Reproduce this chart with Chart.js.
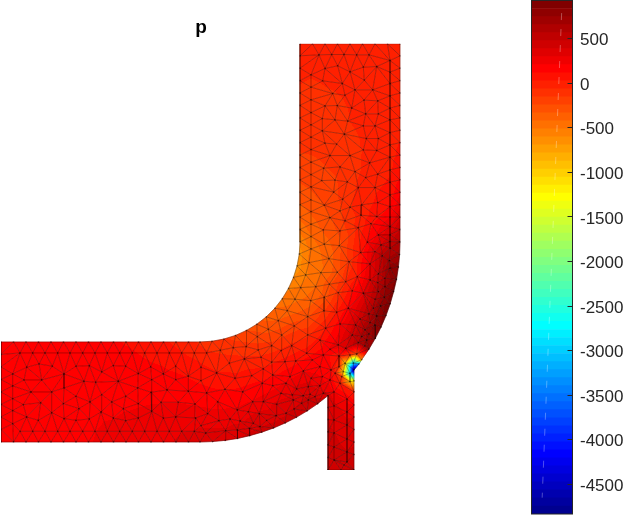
<!DOCTYPE html>
<html>
<head>
<meta charset="utf-8">
<script src="https://cdn.jsdelivr.net/npm/chart.js@4"></script>
<style>
html, body { margin: 0; padding: 0; background: #fff; overflow: hidden; }
canvas { position: absolute; top: 0; }
#meshChart { left: 0; }
#barChart { left: 520px; }
</style>
</head>
<body>
<canvas id="meshChart" width="520" height="515"></canvas>
<canvas id="barChart" width="105" height="515"></canvas>
<script>
// colorbar
var tickValues = [500, 0, -500, -1000, -1500, -2000, -2500, -3000, -3500, -4000, -4500];
var bandEdges = [-4833,-4743,-4653,-4563,-4473,-4383,-4293,-4203,-4113,-4023,-3933,-3843,-3753,-3663,-3573,-3483,
  -3393,-3303,-3213,-3123,-3033,-2943,-2853,-2763,-2673,-2583,-2493,-2403,-2313,-2223,-2133,-2043,
  -1953,-1863,-1773,-1683,-1593,-1503,-1413,-1323,-1233,-1143,-1053,-963,-873,-783,-693,-603,
  -513,-423,-333,-243,-153,-63,27,117,207,297,387,477,567,657,747,837,927];
var streakX = [0.97, 0.02];
var streakY = [786, -4650];

// mesh nodes [x, y, p], pipe width is 100. this list walks round the outline in order
var outlineNodes = [
  [0,100,150],[12.5,100,150],[25,100,150],[37.5,100,150],[50,100,150],[62.5,100,150],[75,100,150],[87.5,100,150],[100,100,150],
  [112.5,100,130],[125,100,110],[137.5,100,90],[150,100,70],[162.5,100,40],[175,100,10],[187.5,100,-30],[199,100,-80],
  [211,100.7,-110],[222.9,102.9,-140],[234.5,106.5,-190],[245.5,111.5,-240],[255.8,117.7,-300],[265.3,125.1,-360],[273.9,133.7,-420],
  [281.3,143.2,-480],[287.5,153.5,-530],[292.5,164.5,-600],[296.1,176.1,-650],[298.3,187.9,-650],[299,200,-580],
  [299,212.4,-480],[299,224.8,-400],[299,237.2,-340],[299,249.6,-280],[299,262,-230],[299,274.4,-190],[299,286.8,-160],[299,299.2,-130],
  [299,311.6,-110],[299,324,-95],[299,336.4,-80],[299,348.8,-70],[299,361.2,-60],[299,373.6,-55],[299,386,-50],[299,398,-50],
  [311.5,398,-50],[324,398,-50],[336.5,398,-50],[349,398,-45],[361.5,398,-40],[374,398,-40],[386.5,398,-35],[399,398,-30],
  [399,386,-30],[399,373.6,-30],[399,361.2,-25],[399,348.8,-20],[399,336.4,-10],[399,324,0],[399,311.6,10],[399,299.2,30],
  [399,286.8,50],[399,274.4,90],[399,262,130],[399,249.6,190],[399,237.2,270],[399,224.8,370],[399,212.4,480],[399,200,600],
  [398.6,187.4,700],[397.4,174.9,790],[395.5,162.5,850],[392.7,150.5,890],[389.2,138.2,900],[385,126.4,880],[380,114.8,840],
  [374.3,103.6,780],[367.9,92.8,700],[360.8,82.4,-600],[358,78,-3400],[353,72,-4800],
  [353,61,-1200],[353,50,0],[353,37,200],[353,25,300],[353,12.5,350],[353,0,380],[353,-12.5,400],[353,-28,420],
  [340,-28,420],[327,-28,420],[327,-15.5,420],[327,-3,410],[327,10,400],[327,22.5,390],[327,34.5,380],[327,46.4,380],
  [316.6,38.2,450],[306.2,31.1,470],[295.4,24.7,460],[284.2,19,450],[272.6,14,430],[260.8,9.8,410],[248.7,6.3,400],[236.5,3.5,380],
  [224.1,1.6,360],[211.6,0.4,340],[199,0,320],
  [187.5,0,310],[175,0,300],[162.5,0,290],[150,0,280],[137.5,0,270],[125,0,260],[112.5,0,240],[100,0,220],
  [87.5,0,200],[75,0,180],[62.5,0,170],[50,0,160],[37.5,0,150],[25,0,150],[12.5,0,150],[0,0,150],
  [0,12.5,150],[0,25,150],[0,37.5,150],[0,50,150],[0,62.5,150],[0,75,150],[0,87.5,150]
];
var inletNodes = [
  [19,89,150],[31.7,89,150],[44,89,150],[56.7,89,150],[69,89,150],[81.7,89,150],[94,89,150],[106.3,89,155],
  [25.7,74.7,150],[38,78,150],[51.3,75.7,150],[63,68,150],[75,75.7,150],[88.3,76.3,150],[100.7,70,155],
  [11.7,68,150],[23,62,150],[40.7,62,150],[83,60.7,155],[94.7,59.7,155],
  [11.7,56,150],[30,50,150],[50.7,50,155],[63,54,155],
  [11.7,43.3,150],[22.3,37.3,155],[39.7,39.3,155],[75,45.7,160],[89,40,165],[100.7,47.3,170],
  [11.7,31.3,155],[62.3,38.3,160],[78,33.3,170],[50.7,29.3,165],[25.7,25,160],[11.7,18.3,160],[37.3,21.7,165],[63,23.3,175],
  [75,21.7,180],[88.3,23,190],[100,30,190],
  [19,10.7,160],[31.7,10.7,165],[44,10.7,170],[56.7,10.7,175],[69,10.7,180],[81.7,10.7,195],[94,10.7,205],[106.3,10.7,225],
  [118.7,89,135],[131.3,89,125],[143.7,89,105],[156,89,85],[168.3,89,60],[180.7,89,30],[193.3,89,0],[205.7,89,-50],
  [112.3,76.3,160],[124.7,75.7,150],[137.3,68.3,160],[149.7,75,130],[162.3,68,140],[174.7,75.7,90],[187.3,65.7,110],[200,74.7,50],
  [117.3,60.7,170],[150.7,62.3,165],[174.7,62.3,150],[200,61.3,100],
  [136.7,54,180],[166,52,180],[150,49.7,185],[124.7,45.7,185],[187.3,50.7,170],[205.7,49,150],
  [110.7,40,190],[160,39.7,205],[177.3,39.7,205],[137.3,38.3,200],[194,38,200],
  [122.3,33.3,200],[150.7,30.7,220],[112.3,24,205],[162.3,24,240],[137.3,24,225],[124.7,21.3,225],[174.7,25,250],[194.7,24,260],
  [206.7,28.3,230],[200,16.3,290],
  [118.7,10.7,240],[131.3,10.7,250],[143.7,10.7,260],[156,10.7,275],[168.3,10.7,285],[180.7,10.7,295],[193.3,10.7,300],[204.7,9,320]
];
var bendNodes = [
  [219.3,91.7,-80],[232.3,94.3,-105],[245,95.3,-120],[257.3,92,-105],[270.7,96.3,-120],[290.7,96.3,-45],[305.7,88.7,75],
  [243.3,83,-45],[228.3,78.7,-20],[270.7,79.7,15],[284,80.3,60],[294.7,81,90],[311.3,82,165],[322.3,87,170],
  [262.3,73,35],[302.3,71,200],[319,75.3,120],[215.7,69,35],
  [234,63.7,55],[250.7,66.3,75],[271.7,67,105],[289,65.3,180],[310,63.7,280],[321.3,65.3,200],
  [224,52.7,110],[261.3,58.7,135],[271.7,56.3,180],[285,58.7,220],[295.7,53,330],[307.3,55.3,330],[319,56.3,250],
  [241.7,50,145],[280,48.7,250],[291.3,47,310],[302.3,46.3,370],[309,47.7,380],[314,45.3,380],[322.3,48.7,330],
  [216.7,40.3,170],[251.7,40.3,215],[262.3,40.3,250],[275.7,37.7,320],[292.3,42,330],[307.3,42,410],[300.7,38.7,400],
  [236.3,32,220],[293,33,390],[247.3,30.3,270],[258.3,28.3,310],[275,26.3,340],[285,28.7,370],
  [218,21.3,260],[229,23,260],[239,21,280],[265.7,21.7,360],[252.3,18.7,340],
  [224.7,11.3,310],[236.3,12,340],[248.3,13.7,370],[259,15.3,380],
  [260,84.7,-50],[280,91.3,-50],[256.3,105.3,-205],[280.7,107,-175],[267.3,112.7,-280],[293.3,116,-200],[277.3,121.3,-330],
  [286.3,131.3,-390],[294,142.7,-450],[306.7,107,-80],[306.7,125.3,-260],[319,102,60],[324.7,113.7,25],[323,131,-150],[335.7,129.7,30],
  [339,118,165],[351.3,107,450],[344.7,93.7,350],[337.3,97,280],[329,92.7,220],[357.3,99.3,560],[360.7,105.3,580],[364,96,690],[365.7,102,680],
  [354.7,117,430],[359,123,440],[364,112,640],[368,108,720],[369,119.3,660],[374,117,780],[368,128,580],[375.7,126,780],
  [347.3,133.7,155],[372.3,133.7,610],[379.7,136,790],[337.3,149.3,-110],[351.3,151,100],[362.3,148.7,300],[377.3,150.3,620],[383.3,144.7,760],
  [374,142.7,560],[328.3,157.7,-270],[314.7,155.3,-420],[344.7,160.3,-60],[369,162,350],[376.7,159.3,510],[384,155.3,720],
  [320,169.3,-440],[336.3,169.7,-280],[356.3,165.3,40],[377.3,168,470],[384,163.7,640],[304.7,167,-530],
  [299.7,154.3,-500],[309.7,141.3,-380],[323.3,144.7,-290],
  [308,179.3,-500],[328,183.3,-380],[348,180.3,-120],[369,178,280],[381.3,186,560],[389,173.7,800],[388.3,181.3,700],
  // round the sharp corner
  [349,87,-100],[338,86,40],[355.7,88,-250],[344,78.7,-900],[352.3,78.7,-3000],[338,75.3,-100],[342.3,70.3,-1000],[334,68.7,60],
  [349,68.7,-3000],[340.7,65.3,-150],[349,60.3,-900],[339,58.7,30],[330,72,120],[329,62,170]
];
var outletNodes = [
  [310,193,-480],[310,205.3,-430],[310,217.7,-370],[310,230.3,-320],[310,242,-280],[310,255,-230],[310,267.3,-200],[310,279.7,-170],
  [310,292.3,-140],[310,304.7,-120],[310,317,-105],[310,329.3,-90],[310,342,-80],[310,354.7,-70],[310,367,-60],
  [323.3,197.7,-380],[338.3,196.3,-270],[322.3,212,-320],[339,211,-220],[323.3,236.7,-240],[329,224.3,-250],[344,221,-130],[339,231,-170],
  [332.7,249.7,-170],[341.7,242.7,-130],[320.7,261.3,-190],[334,261.7,-160],[346.3,260,-120],[322.7,273.7,-160],[339,275,-130],[354,270.3,-80],
  [329,286.3,-130],[349,286.3,-90],
  [359.7,189.3,60],[374,190.3,370],[389,193.7,560],[366.3,199.7,130],[380,197,390],[389,200.3,490],[377.3,207,240],[389,207,400],
  [357.3,214.3,-30],[370,218.3,90],[389,215.3,300],[360,226.7,-30],[375.7,225.3,90],[389,224.7,210],[349,234.7,-70],[360.7,237,-30],
  [376.7,239.3,50],[389,235.3,120],[357.3,254.3,-50],[374,254.3,10],[389,247,70],[389,259.7,40],[364.7,264.3,-40],[376.7,267.7,-10],
  [389,272,10],[368.7,279,-40],[362.3,292,-60],[375.7,291.3,-30],[389,284.7,-5],
  [318,387,-55],[330.7,387.3,-55],[343,387.3,-50],[355.7,387,-45],[368,387,-40],[389,381.3,-35],
  [324,373.3,-55],[336.7,376,-55],[349,370,-50],[362.3,374.7,-45],[375.7,375.3,-40],[389,369.7,-35],
  [321.7,361,-60],[341.3,358.3,-55],[363.3,361.7,-45],[389,358.3,-30],[331.7,348.3,-65],[354,352,-50],[371.7,352,-40],[389,346,-25],
  [344,346.7,-60],[363,341.7,-50],[376.7,341,-35],[389,333.7,-20],
  [324,336,-75],[336.3,336.3,-70],[350.7,333.7,-60],[364.7,328,-45],[377.3,328,-30],[389,322,-15],
  [321.3,323.3,-85],[334,322,-75],[346.7,320.7,-65],[362.3,316,-50],[374,316,-35],[389,309.3,-10],
  [321.3,311,-95],[343.3,307.7,-80],[365.3,303.3,-55],[377.3,303.3,-35],
  [324,298.7,-110],[335.7,297.7,-95],[389,297,-5]
];
var branchNodes = [
  [333,50,200],[333,36,330],[333,22,370],[333,9,390],[333,-5,410],[333,-18,420],
  [346,43,180],[346,30,270],[346,17,320],[346,3,360],[346,-10,390],[346,-20,410],[343,-23,415]
];

var nodes = outlineNodes.concat(inletNodes, bendNodes, outletNodes, branchNodes);

function insideOutline(x, y) {
  var hit = false;
  for (var i = 0, j = outlineNodes.length - 1; i < outlineNodes.length; j = i++) {
    var a = outlineNodes[i], b = outlineNodes[j];
    if ((a[1] > y) != (b[1] > y) && x < (b[0] - a[0]) * (y - a[1]) / (b[1] - a[1]) + a[0]) hit = !hit;
  }
  return hit;
}

// connect the nodes (bowyer watson), then keep what lies in the pipe
function triangulate(pts) {
  var all = pts.concat([[-5000, -5000], [6000, -5000], [500, 6000]]);
  var n = pts.length;
  function circle(t) {
    var a = all[t[0]], b = all[t[1]], c = all[t[2]];
    var d = 2 * (a[0] * (b[1] - c[1]) + b[0] * (c[1] - a[1]) + c[0] * (a[1] - b[1]));
    if (Math.abs(d) < 1e-9) return { x: 0, y: 0, r: 1e18 };
    var aa = a[0] * a[0] + a[1] * a[1], bb = b[0] * b[0] + b[1] * b[1], cc = c[0] * c[0] + c[1] * c[1];
    var x = (aa * (b[1] - c[1]) + bb * (c[1] - a[1]) + cc * (a[1] - b[1])) / d;
    var y = (aa * (c[0] - b[0]) + bb * (a[0] - c[0]) + cc * (b[0] - a[0])) / d;
    return { x: x, y: y, r: (a[0] - x) * (a[0] - x) + (a[1] - y) * (a[1] - y) };
  }
  var tris = [{ v: [n, n + 1, n + 2] }];
  tris[0].c = circle(tris[0].v);
  for (var i = 0; i < n; i++) {
    var p = all[i], edges = {}, keep = [];
    tris.forEach(function (t) {
      var dx = p[0] - t.c.x, dy = p[1] - t.c.y;
      if (dx * dx + dy * dy < t.c.r) {
        [[0, 1], [1, 2], [2, 0]].forEach(function (e) {
          var a = t.v[e[0]], b = t.v[e[1]], k = Math.min(a, b) + '_' + Math.max(a, b);
          if (edges[k]) edges[k].count++; else edges[k] = { a: a, b: b, count: 1 };
        });
      } else keep.push(t);
    });
    Object.keys(edges).forEach(function (k) {
      if (edges[k].count == 1) {
        var t = { v: [edges[k].a, edges[k].b, i] };
        t.c = circle(t.v);
        keep.push(t);
      }
    });
    tris = keep;
  }
  return tris.map(function (t) { return t.v; }).filter(function (v) {
    if (v[0] >= n || v[1] >= n || v[2] >= n) return false;
    var a = pts[v[0]], b = pts[v[1]], c = pts[v[2]];
    var area = Math.abs((b[0] - a[0]) * (c[1] - a[1]) - (c[0] - a[0]) * (b[1] - a[1]));
    return area > 0.01 && insideOutline((a[0] + b[0] + c[0]) / 3, (a[1] + b[1] + c[1]) / 3);
  });
}

// matlab jet, i = 1..64
function jet(i) {
  var r = i <= 24 ? 0 : i <= 40 ? (i - 24) / 16 : i <= 56 ? 1 : 1 - (i - 56) / 16;
  var g = i <= 8 ? 0 : i <= 24 ? (i - 8) / 16 : i <= 40 ? 1 : i <= 56 ? 1 - (i - 40) / 16 : 0;
  var b = i <= 8 ? 0.5 + i / 16 : i <= 24 ? 1 : i <= 40 ? 1 - (i - 24) / 16 : 0;
  return 'rgb(' + Math.round(r * 255) + ',' + Math.round(g * 255) + ',' + Math.round(b * 255) + ')';
}

function bandOf(p) {
  for (var i = 0; i < 63; i++) if (p < bandEdges[i + 1]) return i;
  return 63;
}

// linear shading of one triangle in the discrete colormap
function triangleFill(tri, c) {
  var sx = c.chart.scales.x, sy = c.chart.scales.y;
  var xs = tri.map(function (k) { return sx.getPixelForValue(nodes[k][0]); });
  var ys = tri.map(function (k) { return sy.getPixelForValue(nodes[k][1]); });
  var ps = tri.map(function (k) { return nodes[k][2]; });
  var lo = Math.min(ps[0], ps[1], ps[2]), hi = Math.max(ps[0], ps[1], ps[2]);
  var flat = jet(bandOf((lo + hi) / 2) + 1);
  if (bandOf(lo) == bandOf(hi)) return flat;
  var det = (xs[1] - xs[0]) * (ys[2] - ys[0]) - (xs[2] - xs[0]) * (ys[1] - ys[0]);
  // scales have no size yet on the first pass
  if (!det || !isFinite(det)) return flat;
  var gx = ((ps[1] - ps[0]) * (ys[2] - ys[0]) - (ps[2] - ps[0]) * (ys[1] - ys[0])) / det;
  var gy = ((ps[2] - ps[0]) * (xs[1] - xs[0]) - (ps[1] - ps[0]) * (xs[2] - xs[0])) / det;
  var g2 = gx * gx + gy * gy;
  var grad = c.chart.ctx.createLinearGradient(
    xs[0] + gx * (lo - ps[0]) / g2, ys[0] + gy * (lo - ps[0]) / g2,
    xs[0] + gx * (hi - ps[0]) / g2, ys[0] + gy * (hi - ps[0]) / g2);
  for (var b = bandOf(lo); b <= bandOf(hi); b++) {
    var t0 = Math.max(0, (bandEdges[b] - lo) / (hi - lo)), t1 = Math.min(1, (bandEdges[b + 1] - lo) / (hi - lo));
    grad.addColorStop(t0, jet(b + 1));
    grad.addColorStop(t1, jet(b + 1));
  }
  return grad;
}

var triangles = triangulate(nodes);
var seen = {}, edgeLine = [];
triangles.forEach(function (t) {
  [[t[0], t[1]], [t[1], t[2]], [t[2], t[0]]].forEach(function (e) {
    var k = Math.min(e[0], e[1]) + '_' + Math.max(e[0], e[1]);
    if (seen[k]) return;
    seen[k] = true;
    edgeLine.push({ x: nodes[e[0]][0], y: nodes[e[0]][1] }, { x: nodes[e[1]][0], y: nodes[e[1]][1] }, { x: NaN, y: NaN });
  });
});

var meshSets = [
  { label: 'nodes', data: nodes.map(function (n) { return { x: n[0], y: n[1] }; }), showLine: false,
    pointRadius: 0.9, pointBorderWidth: 0, pointBackgroundColor: 'rgba(0,0,0,0.3)' },
  { label: 'edges', data: edgeLine, showLine: true, spanGaps: false, fill: false,
    borderColor: 'rgba(0,0,0,0.36)', borderWidth: 0.85, pointRadius: 0 }
];
triangles.forEach(function (t) {
  var fillStyle = function (c) { return triangleFill(t, c); };
  meshSets.push({
    data: [t[0], t[1], t[2], t[0]].map(function (k) { return { x: nodes[k][0], y: nodes[k][1] }; }),
    showLine: true, fill: 'shape', tension: 0, pointRadius: 0,
    pointBackgroundColor: 'transparent', pointBorderColor: 'transparent',
    backgroundColor: fillStyle, borderColor: fillStyle, borderWidth: 0.5
  });
});

new Chart(document.getElementById('meshChart').getContext('2d'), {
  type: 'scatter',
  data: { datasets: meshSets },
  options: {
    responsive: false,
    animation: false,
    events: [],
    layout: { autoPadding: false, padding: { left: 1, right: 119, bottom: 45 } },
    plugins: {
      legend: { display: false },
      tooltip: { enabled: false },
      title: {
        display: true, text: 'p', color: '#000',
        font: { family: '"Liberation Sans", Arial, sans-serif', size: 19, weight: 'bold' },
        padding: { top: 16, bottom: 5 }
      }
    },
    scales: {
      x: { type: 'linear', display: false, min: 0, max: 400 },
      y: { type: 'linear', display: false, min: -28, max: 398 }
    }
  }
});

var barSets = [{
  type: 'scatter', label: 'streak', xAxisID: 'x2', order: -1, showLine: true, pointRadius: 0,
  data: streakX.map(function (x, i) { return { x: x, y: streakY[i] }; }),
  borderColor: 'rgba(255,255,255,0.3)', borderWidth: 1, borderDash: [7, 9]
}];
for (var b = 0; b < 64; b++) {
  barSets.push({ data: [[bandEdges[b], bandEdges[b + 1]]], backgroundColor: jet(b + 1), borderWidth: 0, grouped: false,
    barPercentage: 1, categoryPercentage: 1 });
}

var frame = {
  id: 'frame',
  afterDraw: function (chart) {
    var a = chart.chartArea, ctx = chart.ctx;
    ctx.save();
    ctx.strokeStyle = '#262626';
    ctx.lineWidth = 1;
    ctx.strokeRect(a.left, a.top, a.right - a.left, a.bottom - a.top);
    ctx.restore();
  }
};

new Chart(document.getElementById('barChart').getContext('2d'), {
  type: 'bar',
  data: { labels: ['p'], datasets: barSets },
  plugins: [frame],
  options: {
    responsive: false,
    animation: false,
    events: [],
    layout: { autoPadding: false, padding: { left: 11.5, top: 0.5, bottom: 1 } },
    plugins: { legend: { display: false }, tooltip: { enabled: false } },
    scales: {
      x: { display: false, stacked: false },
      x2: { type: 'linear', display: false, min: 0, max: 1 },
      y: {
        position: 'right', min: bandEdges[0], max: bandEdges[64],
        afterBuildTicks: function (axis) { axis.ticks = tickValues.map(function (v) { return { value: v }; }); },
        afterFit: function (axis) { axis.width = 52.5; axis.paddingTop = 0; axis.paddingBottom = 0; },
        border: { display: false },
        grid: { drawOnChartArea: false, drawTicks: true, tickLength: -5, color: '#262626', z: 1 },
        ticks: { autoSkip: false, padding: 12.5, labelOffset: 2, color: '#262626', z: 1,
          font: { family: '"Liberation Sans", Arial, sans-serif', size: 17 },
          callback: function (v) { return String(v); } }
      }
    }
  }
});
</script>
</body>
</html>
